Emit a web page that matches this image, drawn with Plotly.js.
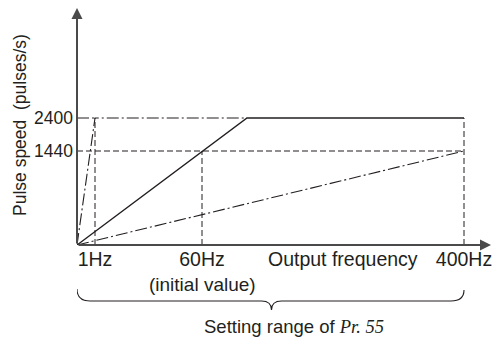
<!DOCTYPE html>
<html><head><meta charset="utf-8">
<script src="https://cdn.plot.ly/plotly-3.0.1.min.js"></script>
<style>html,body{margin:0;padding:0;background:#fff;}</style>
</head><body><div id="chart" style="width:493px;height:338px;"></div>
<script>
// ---------------- data ----------------
const freqTicksHz = [1, 60, 400];
const freqTickLabels = ['1Hz', '60Hz', '400Hz'];
const pulseTicks = [1440, 2400];
const pulseTickLabels = ['1440', '2400'];

// Pr.55 = 60Hz (initial value): 1440 pulses/s at 60Hz, saturating at 2400 pulses/s
const solidHz = [0, 60, 100, 400];
const solidPulse = [0, 1440, 2400, 2400];
// Pr.55 = 1Hz
const pr1Hz = [0, 1, 100];
const pr1Pulse = [0, 2400, 2400];
// Pr.55 = 400Hz
const pr400Hz = [0, 400];
const pr400Pulse = [0, 1440];
// reference (guide) lines
const guide2400Hz = [0, 1];        const guide2400P = [2400, 2400];
const guide1440Hz = [0, 400];      const guide1440P = [1440, 1440];
const vert1Hz = [1, 1];            const vert1P = [0, 2400];
const vert60Hz = [60, 60];         const vert60P = [0, 1440];
const vert400Hz = [400, 400];      const vert400P = [0, 2400];

// -------- schematic (not to scale) axes: value -> diagram unit ---------
const xKnots = [[0, 0], [1, 18], [60, 125], [100, 170], [400, 387]];
const yKnots = [[0, 0], [1440, 94], [2400, 127]];
function pw(knots, v) {
  for (let i = 1; i < knots.length; i++) {
    if (v <= knots[i][0] || i === knots.length - 1) {
      const a0 = knots[i-1][0], b0 = knots[i-1][1], a1 = knots[i][0], b1 = knots[i][1];
      return b0 + (v - a0) * (b1 - b0) / (a1 - a0);
    }
  }
}
const X = a => a.map(v => pw(xKnots, v));
const Y = a => a.map(v => pw(yKnots, v));
const XMAX = 414, YMAX = 237;

const INK = '#231f20';
const FONT = 'Liberation Sans, Arial, Helvetica, sans-serif';
const DASH = '6px,3px';
const DASHDOT = '12px,3px,2px,3px';

function line(xs, ys, dash, w) {
  return {x: X(xs), y: Y(ys), type: 'scatter', mode: 'lines', hoverinfo: 'skip',
          line: {color: INK, width: w || 1.1, dash: dash}, showlegend: false, cliponaxis: false};
}

const traces = [
  line(guide1440Hz, guide1440P, DASH, 1),
  line(vert1Hz, vert1P, DASH, 1),
  line(vert60Hz, vert60P, DASH, 1),
  line(vert400Hz, vert400P, DASH, 1),
  line(guide2400Hz, guide2400P, DASHDOT, 1),
  line(pr1Hz, pr1Pulse, DASHDOT, 1.1),
  line(pr400Hz, pr400Pulse, DASHDOT, 1.1),
  line(solidHz, solidPulse, 'solid', 1.4)
];

// paper y for points below the plot area (plot bottom at px 245, height 237)
const py = p => (245 - p) / YMAX;
const bx0 = pw(xKnots, 0), bx1 = pw(xKnots, 400), bxc = 194.5;
const bracePath =
  'M' + bx0 + ',' + py(289) +
  ' Q' + bx0 + ',' + py(301) + ' ' + (bx0 + 13) + ',' + py(301) +
  ' L' + (bxc - 10) + ',' + py(301) +
  ' Q' + bxc + ',' + py(301) + ' ' + bxc + ',' + py(310) +
  ' Q' + bxc + ',' + py(301) + ' ' + (bxc + 10) + ',' + py(301) +
  ' L' + (bx1 - 13) + ',' + py(301) +
  ' Q' + bx1 + ',' + py(301) + ' ' + bx1 + ',' + py(290);

const layout = {
  width: 493, height: 338,
  margin: {l: 77, r: 2, t: 8, b: 93, pad: 0},
  paper_bgcolor: '#fff', plot_bgcolor: '#fff',
  font: {family: FONT, color: INK},
  xaxis: {range: [0, XMAX], showgrid: false, zeroline: false, showline: false,
          tickvals: X(freqTicksHz), ticktext: freqTickLabels, ticks: '',
          tickfont: {size: 19.5, family: FONT, color: INK}, fixedrange: true},
  yaxis: {range: [0, YMAX], showgrid: false, zeroline: false, showline: false,
          tickvals: Y(pulseTicks), ticktext: pulseTickLabels, ticks: '',
          ticklabelstandoff: 3,
          tickfont: {size: 17.5, family: FONT, color: INK}, fixedrange: true},
  shapes: [
    {type: 'path', xref: 'x', yref: 'paper', path: bracePath,
     line: {color: INK, width: 1.1}}
  ],
  annotations: [
    // axis arrows
    {x: 0, y: YMAX, xref: 'x', yref: 'y', ax: 0, ay: YMAX, axref: 'pixel', ayref: 'pixel',
     text: '', showarrow: true, arrowhead: 2, arrowsize: 1.1, arrowwidth: 2, arrowcolor: '#4a4a4a'},
    {x: XMAX, y: 0, xref: 'x', yref: 'y', ax: -XMAX, ay: 0, axref: 'pixel', ayref: 'pixel',
     text: '', showarrow: true, arrowhead: 2, arrowsize: 1.1, arrowwidth: 2, arrowcolor: '#4a4a4a'},
    // y-axis title
    {xref: 'paper', yref: 'paper', x: -57 / XMAX, y: (245 - 125) / YMAX, xanchor: 'center', yanchor: 'middle',
     text: 'Pulse speed \u00a0(pulses/s)', textangle: -90, showarrow: false,
     font: {size: 17.5, family: FONT, color: INK}},
    // x-axis name
    {xref: 'x', yref: 'paper', x: 266, y: py(259), xanchor: 'center', yanchor: 'middle',
     text: 'Output frequency', showarrow: false, font: {size: 19.5, family: FONT, color: INK}},
    {xref: 'x', yref: 'paper', x: pw(xKnots, 60), y: py(284.5), xanchor: 'center', yanchor: 'middle',
     text: '(initial value)', showarrow: false, font: {size: 19, family: FONT, color: INK}},
    {xref: 'x', yref: 'paper', x: 125, y: py(326.5), xanchor: 'left', yanchor: 'middle',
     text: 'Setting range of <span style="font-family:Liberation Serif,Times New Roman,serif;font-style:italic">Pr. 55</span>',
     showarrow: false, font: {size: 18.5, family: FONT, color: INK}}
  ]
};

Plotly.newPlot('chart', traces, layout, {staticPlot: true, displayModeBar: false});
</script>
</body></html>
